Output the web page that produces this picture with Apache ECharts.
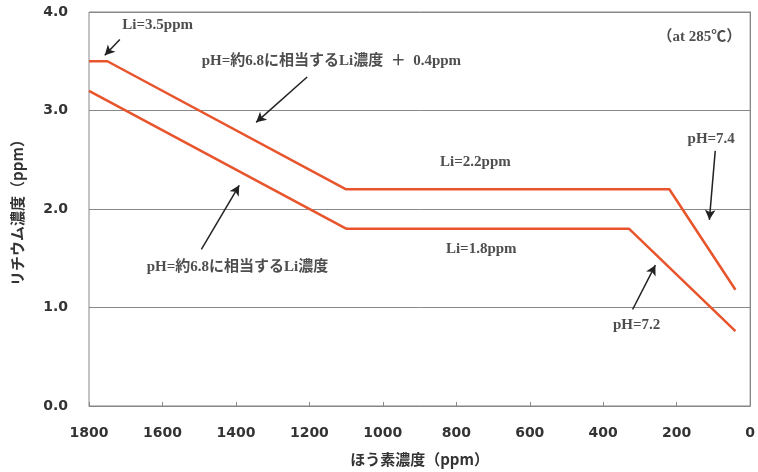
<!DOCTYPE html>
<html>
<head>
<meta charset="utf-8">
<script src="https://cdn.jsdelivr.net/npm/echarts@6/dist/echarts.min.js"></script>
<style>
  html, body { margin: 0; padding: 0; background: #ffffff; }
  #chart { width: 758px; height: 472px; }
</style>
</head>
<body>
<div id="chart"></div>
<script>
// Boron concentration (ppm) on x, lithium concentration (ppm) on y
const upperBoron = [1800, 1750, 1100, 220, 40];
const upperLi    = [3.5, 3.5, 2.2, 2.2, 1.18];
const lowerBoron = [1800, 1100, 330, 40];
const lowerLi    = [3.2, 1.8, 1.8, 0.76];

const xTicks = [0, 200, 400, 600, 800, 1000, 1200, 1400, 1600, 1800];
const yTicks = [0.0, 1.0, 2.0, 3.0, 4.0];

// Annotation texts placed in data space: [boron, lithium, text]
const noteTexts = [
  [1613, 3.87, 'Li=3.5ppm'],
  [1140, 3.50, 'pH=約6.8に相当するLi濃度\u2002＋\u20020.4ppm'],
  [138, 3.74, '（at 285℃）'],
  [106, 2.71, 'pH=7.4'],
  [748, 2.48, 'Li=2.2ppm'],
  [732, 1.59, 'Li=1.8ppm'],
  [309, 0.82, 'pH=7.2'],
  [1396, 1.41, 'pH=約6.8に相当するLi濃度']
];

// Pointer arrows in data space: [fromBoron, fromLi, toBoron, toLi]
const noteArrows = [
  [1716, 3.72, 1757, 3.56],
  [1206, 3.34, 1345, 2.88],
  [95, 2.59, 111, 1.89],
  [320, 0.98, 258, 1.43],
  [1494, 1.59, 1391, 2.24]
];

const lineColor = '#e8542c';
const gridColor = '#888888';
const noteFont = '"Liberation Serif", "Noto Sans CJK JP", serif';
const axisFont = '"DejaVu Sans", "Noto Sans CJK JP", sans-serif';

const zip = (xs, ys) => xs.map((x, i) => [x, ys[i]]);

const chart = echarts.init(document.getElementById('chart'), null, { renderer: 'canvas' });

chart.setOption({
  animation: false,
  backgroundColor: '#ffffff',
  grid: {
    left: 89, right: 5, top: 12, bottom: 62,
    show: true, borderColor: gridColor, borderWidth: 1
  },
  xAxis: {
    type: 'value',
    inverse: true,
    min: xTicks[0],
    max: xTicks[xTicks.length - 1],
    interval: 200,
    name: 'ほう素濃度（ppm）',
    nameLocation: 'middle',
    nameGap: 46,
    nameTextStyle: { fontFamily: '"Noto Sans CJK JP", sans-serif', fontSize: 15, fontWeight: 'bold', color: '#333' },
    axisLine: { show: true, lineStyle: { color: gridColor, width: 1 } },
    axisTick: { show: true, inside: true, length: 4, lineStyle: { color: gridColor } },
    axisLabel: {
      margin: 20,
      fontFamily: axisFont, fontSize: 14, fontWeight: 'bold', color: '#333',
      showMinLabel: true, showMaxLabel: true,
      formatter: v => String(v)
    },
    splitLine: { show: false }
  },
  yAxis: {
    type: 'value',
    min: yTicks[0],
    max: yTicks[yTicks.length - 1],
    interval: 1,
    name: 'リチウム濃度（ppm）',
    nameLocation: 'middle',
    nameGap: 64,
    nameRotate: 90,
    nameTextStyle: { fontFamily: '"Noto Sans CJK JP", sans-serif', fontSize: 15, fontWeight: 'bold', color: '#333' },
    axisLine: { show: true, lineStyle: { color: gridColor, width: 1 } },
    axisTick: { show: false },
    axisLabel: {
      margin: 21,
      fontFamily: axisFont, fontSize: 14, fontWeight: 'bold', color: '#333',
      formatter: v => v.toFixed(1)
    },
    splitLine: { show: true, lineStyle: { color: gridColor, width: 1 } }
  },
  series: [
    {
      name: 'upper',
      type: 'line',
      data: zip(upperBoron, upperLi),
      symbol: 'none',
      lineStyle: { color: lineColor, width: 2.5 },
      z: 3
    },
    {
      name: 'lower',
      type: 'line',
      data: zip(lowerBoron, lowerLi),
      symbol: 'none',
      lineStyle: { color: lineColor, width: 2.5 },
      z: 3
    },
    {
      name: 'notes',
      type: 'scatter',
      data: noteTexts.map(n => ({ value: [n[0], n[1]], label: { formatter: n[2] } })),
      symbolSize: 0,
      silent: true,
      label: {
        show: true,
        position: 'inside',
        fontFamily: noteFont,
        fontSize: 15,
        fontWeight: 'bold',
        color: '#222'
      },
      markLine: {
        silent: true,
        symbol: ['none', 'arrow'],
        symbolSize: [8, 10],
        label: { show: false },
        lineStyle: { color: '#222', width: 1.5, type: 'solid' },
        data: noteArrows.map(a => [
          { coord: [a[0], a[1]] },
          { coord: [a[2], a[3]] }
        ])
      },
      z: 5
    }
  ]
});
</script>
</body>
</html>
